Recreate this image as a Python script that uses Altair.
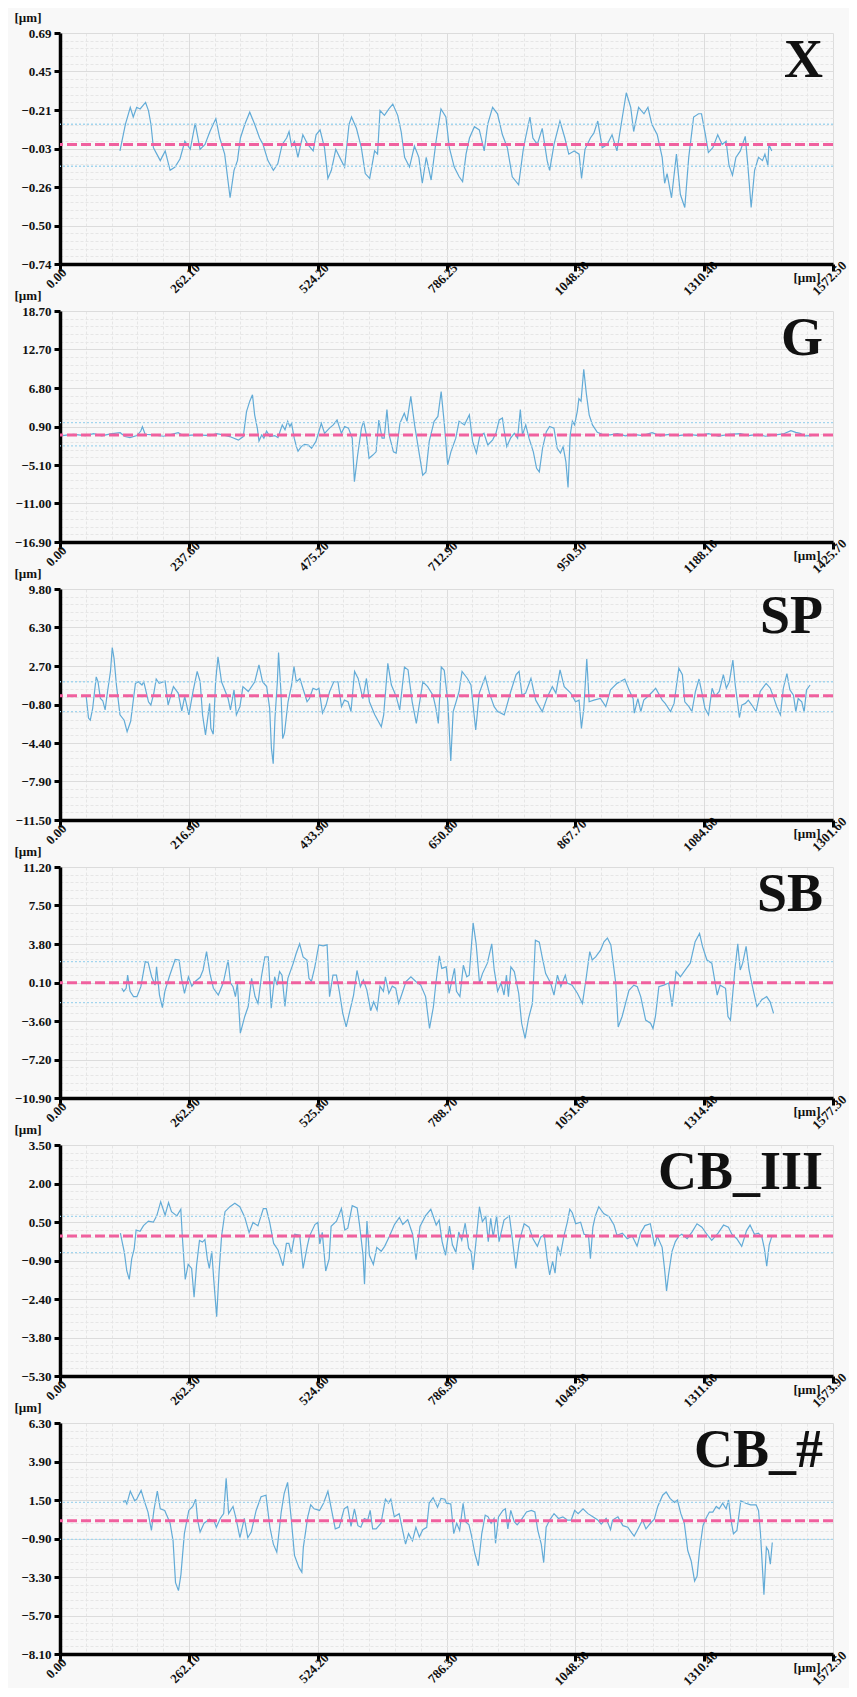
import altair as alt
import pandas as pd

FONT = "Liberation Serif"

NAMES = ["X", "G", "SP", "SB", "CB_III", "CB_#"]
X_MAX = [1572.5, 1425.7, 1301.6, 1577.3, 1573.9, 1572.5]
Y_MIN = [-0.74, -16.9, -11.5, -10.9, -5.3, -8.1]
Y_MAX = [0.69, 18.7, 9.8, 11.2, 3.5, 6.3]

X_TICK_LABELS = [
    ["0.00", "262.10", "524.20", "786.25", "1048.30", "1310.40", "1572.50"],
    ["0.00", "237.60", "475.20", "712.90", "950.50", "1188.10", "1425.70"],
    ["0.00", "216.90", "433.90", "650.80", "867.70", "1084.60", "1301.60"],
    ["0.00", "262.90", "525.80", "788.70", "1051.60", "1314.40", "1577.30"],
    ["0.00", "262.30", "524.60", "786.90", "1049.30", "1311.60", "1573.90"],
    ["0.00", "262.10", "524.20", "786.30", "1048.30", "1310.40", "1572.50"],
]
# bottom -> top
Y_TICK_LABELS = [
    ["−0.74", "−0.50", "−0.26", "−0.03", "−0.21", "0.45", "0.69"],
    ["−16.90", "−11.00", "−5.10", "0.90", "6.80", "12.70", "18.70"],
    ["−11.50", "−7.90", "−4.40", "−0.80", "2.70", "6.30", "9.80"],
    ["−10.90", "−7.20", "−3.60", "0.10", "3.80", "7.50", "11.20"],
    ["−5.30", "−3.80", "−2.40", "−0.90", "0.50", "2.00", "3.50"],
    ["−8.10", "−5.70", "−3.30", "−0.90", "1.50", "3.90", "6.30"],
]

MEAN = [0.0, -0.4, -0.05, 0.12, 0.03, 0.2]
UPPER = [0.125, 1.5, 1.25, 2.14, 0.78, 1.35]
LOWER = [-0.135, -2.1, -1.5, -1.78, -0.6, -0.95]

PROFILE_X = [(122,-0.04),(133,0.125),(143,0.23),(149,0.17),(156,0.23),(163,0.22),(174,0.26),(180,0.21),(185,0.125),(190,-0.02),(197,-0.06),(204,-0.10),(214,-0.04),(224,-0.16),(234,-0.14),(244,-0.09),(254,0.02),(265,-0.03),(275,0.13),(285,-0.03),(295,0.00),(305,0.08),(317,0.16),(325,0.04),(335,-0.06),(346,-0.33),(354,-0.16),(361,-0.10),(367,0.04),(376,0.125),(386,0.20),(396,0.125),(406,0.04),(413,0.00),(423,-0.10),(434,-0.16),(443,-0.12),(452,0.00),(461,0.04),(466,0.08),(471,-0.01),(477,0.02),(484,-0.08),(494,0.06),(504,0.00),(515,-0.04),(521,0.06),(529,0.09),(538,-0.02),(545,-0.21),(552,-0.16),(561,-0.03),(569,-0.08),(579,-0.14),(588,0.125),(593,0.17),(603,0.10),(613,-0.02),(621,-0.18),(630,-0.21),(640,-0.04),(646,-0.06),(651,0.21),(660,0.18),(669,0.22),(677,0.25),(687,0.18),(694,0.08),(701,-0.08),(711,-0.14),(721,-0.01),(730,-0.08),(737,-0.24),
    (745,-0.08),(755,-0.22),(765,0.02),(775,0.22),(785,0.17),(792,-0.02),(802,-0.14),(812,-0.20),(819,-0.23),(826,-0.06),(833,0.04),(843,0.11),(853,0.09),(863,-0.04),(870,0.125),(880,0.23),(890,0.19),(900,0.06),(910,-0.02),(920,-0.20),(933,-0.25),(942,-0.04),(947,0.04),(956,0.17),(962,0.04),(971,0.00),(981,0.10),(991,-0.10),(996,-0.16),(1005,0.00),(1017,0.145),(1027,0.04),(1035,-0.06),(1046,-0.04),(1056,-0.06),(1061,-0.21),(1068,-0.03),(1079,0.04),(1086,0.07),(1094,0.145),(1103,-0.02),(1113,0.00),(1123,0.06),(1133,-0.04),(1144,0.17),(1152,0.32),(1161,0.23),(1167,0.08),(1177,0.23),(1188,0.19),(1196,0.23),(1204,0.125),(1215,0.06),(1225,-0.08),(1230,-0.24),(1235,-0.18),(1244,-0.33),(1254,-0.06),(1262,-0.31),(1271,-0.39),(1279,-0.08),(1289,0.17),(1299,0.19),(1305,0.19),(1313,0.06),(1319,-0.05),(1328,-0.02),(1338,0.06),(1347,0.00),(1355,0.02),(1361,-0.13),(1368,-0.19),(1375,-0.08),(1384,-0.04),(1394,0.05),(1399,-0.12),(1406,-0.39),(1413,-0.16),(1421,-0.08),(1429,-0.10),(1434,-0.06),(1440,-0.13),(1442,0.00),(1448,-0.04)]

PROFILE_G = [(4,-0.5),(25,-0.3),(47,-0.5),(62,-0.2),(77,-0.55),(93,-0.25),(111,-0.05),(120,-0.65),(129,-0.8),(142,-0.5),(149,0.2),(152,0.85),(157,-0.3),(172,-0.4),(191,-0.6),(206,-0.3),(218,-0.05),(227,-0.5),(252,-0.4),(277,-0.5),(289,-0.2),(301,-0.4),(313,-0.65),(329,-1.2),(338,-0.65),(344,3.2),(350,4.8),(355,5.8),(359,2.7),(364,0.6),(367,-1.35),(372,-0.4),(376,-0.9),(381,0.2),(387,-0.65),(396,-0.5),(402,-0.8),(410,1.15),(415,0.4),(420,1.7),(424,0.9),(427,1.4),(432,-0.9),(436,-2.2),(439,-2.9),(445,-2.2),(451,-1.85),(458,-1.95),(464,-2.45),(472,-1.4),(482,1.4),(488,-0.15),(497,0.65),(504,1.15),(511,1.9),(519,-0.15),(525,0.9),(532,0.65),(539,-0.9),(543,-7.6),(549,-3.5),(556,0.65),(560,1.7),(565,-0.4),(570,-4.0),(577,-3.5),(583,-3.0),(588,1.9),(594,-0.9),(598,-0.9),(603,3.5),(607,-0.4),(615,-3.0),(620,-3.2),(627,1.4),(635,2.95),(640,1.7),(647,5.55),(654,1.15),(663,-3.5),(669,-6.6),
    (675,-6.1),(681,-1.4),(690,1.7),(697,2.45),(703,6.3),(709,1.15),(715,-5.0),(721,-3.0),(730,-0.9),(736,1.7),(746,1.15),(755,2.7),(761,-1.4),(768,-3.2),(774,-0.65),(782,-0.15),(789,-1.95),(798,-1.15),(804,-0.15),(810,1.9),(816,2.2),(819,0.4),(824,-2.2),(831,-0.9),(838,-0.15),(844,-0.9),(849,3.5),(853,-0.4),(859,1.15),(865,-0.9),(873,-3.0),(879,-5.55),(884,-6.1),(890,-2.45),(897,0.1),(903,0.9),(911,0.65),(917,-2.45),(923,-3.2),(928,-2.2),(933,-4.5),(937,-8.5),(941,-0.4),(945,1.7),(949,1.15),(954,3.2),(957,5.2),(961,4.8),(966,9.7),(971,5.8),(976,2.7),(982,1.15),(991,0.0),(1000,-0.3),(1015,-0.4),(1028,-0.2),(1043,-0.55),(1058,-0.3),(1074,-0.5),(1092,-0.05),(1107,-0.55),(1123,-0.3),(1141,-0.5),(1160,-0.3),(1178,-0.5),(1196,-0.2),(1215,-0.6),(1233,-0.3),(1255,-0.2),(1270,-0.5),(1288,-0.3),(1301,-0.6),(1319,-0.4),(1334,-0.25),(1348,0.25),(1357,0.0),(1365,-0.15),(1374,-0.55),(1386,-0.5)]

PROFILE_SP = [(44,-0.04),(48,-2.1),(51,-2.3),(55,-1.2),(61,1.7),(64,1.25),(68,-0.3),(72,-0.5),(76,-1.35),(80,0.33),(85,2.2),(88,4.4),(91,3.4),(95,0.95),(101,-1.8),(108,-2.3),(113,-3.35),(119,-2.4),(127,1.1),(132,1.25),(138,0.95),(141,1.25),(149,-0.6),(153,-0.9),(158,0.2),(162,1.5),(167,1.1),(177,1.3),(182,-0.9),(191,0.8),(199,0.2),(205,-1.45),(210,-0.1),(217,-1.8),(224,0.35),(231,2.2),(236,1.25),(240,-1.8),(245,-3.65),(252,-0.75),(254,-3.05),(258,-3.6),(262,1.25),(266,3.55),(272,1.25),(283,-0.3),(287,-1.35),(293,0.5),(297,-1.8),(303,-1.05),(308,0.8),(317,0.35),(328,1.25),(335,2.8),(341,1.25),(348,0.8),(353,-1.2),(356,-4.9),(359,-6.3),(362,-2.1),(366,1.25),(368,3.95),(372,0.35),(375,-4.0),(378,-3.5),(384,-0.6),(390,0.95),(394,2.65),(398,1.25),(404,1.55),(409,0.65),(416,-0.6),(420,-0.3),(426,0.65),(432,0.5),(436,0.65),(442,-1.65),(448,-0.9),(454,0.35),(461,1.25),(468,1.25),(474,-1.05),(479,-0.45),(485,-0.6),(490,-1.5),(496,2.2),(502,1.55),(510,-0.3),(516,1.55),(521,-0.6),(530,-1.8),(541,-2.9),(545,-1.8),(552,2.95),(558,0.95),(566,-0.1),(572,-1.35),(580,2.6),(586,2.35),(593,-0.6),(600,-2.6),(611,1.25),(619,0.8),(628,0.0),(633,-1.2),(637,-2.6),
    (642,2.6),(647,2.3),(653,-0.6),(658,-6.05),(662,-1.5),(667,-0.6),(672,0.35),(677,2.2),(686,1.55),(692,0.95),(700,-3.2),(706,0.2),(716,1.7),(723,0.2),(731,-1.05),(737,-1.5),(748,-1.8),(759,0.35),(768,1.9),(773,2.2),(778,0.0),(784,0.2),(793,1.55),(801,-0.45),(812,-1.5),(821,-0.1),(829,0.8),(835,0.2),(842,2.35),(849,0.8),(860,0.2),(868,-0.6),(874,-0.45),(878,-3.05),(882,-1.2),(887,3.35),(891,-0.6),(899,-0.45),(910,-0.3),(919,-1.05),(927,0.5),(938,1.1),(951,1.5),(958,0.5),(965,-0.3),(967,-1.65),(973,-0.3),(978,-1.5),(983,-0.45),(992,0.0),(1003,0.65),(1014,-0.45),(1019,-0.75),(1028,-1.5),(1034,-0.75),(1042,2.5),(1048,1.9),(1052,-0.6),(1059,-1.05),(1064,-1.5),(1070,0.35),(1076,1.5),(1081,0.2),(1086,-1.2),(1092,-1.8),(1098,0.65),(1103,-0.1),(1110,0.35),(1117,1.9),(1122,0.65),(1127,1.25),(1133,3.25),(1137,0.95),(1144,-2.05),(1148,-0.9),(1154,-0.75),(1159,-0.45),(1165,-0.9),(1172,-1.5),(1179,0.35),(1189,1.1),(1196,0.65),(1201,-0.1),(1207,-1.05),(1213,-1.8),(1218,0.65),(1224,2.0),(1229,0.5),(1235,0.0),(1239,-1.5),(1243,-0.3),(1249,-0.6),(1253,-1.55),(1257,0.5),(1263,0.95)]

PROFILE_SB = [(126,-0.4),(130,-0.7),(135,-0.4),(138,0.85),(143,-0.7),(150,-1.2),(157,-1.2),(165,-0.25),(174,2.15),(180,2.05),(187,0.7),(194,-0.1),(197,1.65),(203,-1.05),(209,-2.25),(214,-0.7),(223,0.7),(235,2.35),(243,2.3),(248,0.55),(254,-0.9),(262,0.7),(269,-0.2),(277,0.3),(286,0.65),(292,1.35),(299,3.1),(306,1.0),(313,-0.4),(323,-1.05),(333,0.1),(343,2.3),(348,0.1),(353,-0.25),(358,-1.2),(362,0.1),(368,-4.7),(377,-3.1),(384,-2.15),(391,0.55),(398,-1.2),(404,-1.85),(411,0.7),(418,2.6),(425,2.6),(431,-2.3),(438,0.7),(443,-0.1),(448,1.2),(453,0.85),(459,-2.15),(465,0.55),(476,2.0),(482,2.95),(489,3.85),(496,2.6),(504,2.3),(508,0.55),(513,0.25),(520,1.65),(528,3.75),(537,3.65),(545,3.75),(550,-1.2),(557,0.85),(564,0.85),(570,-0.7),(577,-2.8),(584,-4.1),(591,-2.65),(599,-1.05),(606,1.3),(613,-0.25),(619,0.4),(626,-0.55),(634,-2.55),(640,-1.7),(647,-2.5),(653,-0.2),(660,-0.7),(664,0.7),(671,-0.9),(678,-0.2),(685,-0.4),(691,-1.85),(698,-0.9),(706,0.25),(716,0.7),(726,0.25),(736,-0.1),(746,-1.2),(754,-4.25),(762,-2.15),(767,0.1),
    (774,2.7),(779,1.5),(788,1.65),(794,-0.9),(800,0.4),(805,1.5),(809,-0.7),(816,-1.2),(823,1.8),(830,0.7),(835,0.85),(843,5.85),(849,3.9),(856,0.1),(862,1.0),(872,2.0),(881,3.85),(886,1.35),(893,-0.7),(900,0.1),(906,-1.05),(911,0.85),(915,-1.2),(920,1.65),(927,1.2),(936,-0.9),(942,-3.75),(949,-5.2),(956,-3.3),(964,-1.85),(970,4.2),(978,4.0),(984,2.55),(991,1.0),(1001,0.1),(1008,-1.05),(1015,0.85),(1022,-0.25),(1031,0.85),(1035,0.1),(1045,-0.1),(1056,-0.9),(1066,-1.85),(1074,0.7),(1081,3.1),(1086,2.3),(1093,2.6),(1103,3.25),(1110,4.05),(1117,4.4),(1124,3.75),(1134,0.1),(1139,-4.1),(1147,-3.1),(1154,-1.85),(1161,-0.6),(1171,-0.1),(1178,-0.25),(1185,-1.2),(1195,-3.45),(1205,-3.75),(1210,-4.25),(1215,-3.1),(1222,-0.25),(1232,-0.1),(1242,0.1),(1249,-2.15),(1257,1.2),(1266,0.7),(1276,1.35),(1286,2.0),(1296,4.05),(1305,4.85),(1311,3.6),(1320,2.3),(1330,2.0),(1341,-1.05),(1347,-0.1),(1358,-0.4),(1363,-3.1),(1368,-3.45),(1377,1.35),(1383,3.85),(1388,1.35),(1393,2.0),(1400,3.6),(1406,1.35),(1413,-0.25),(1422,-2.15),(1432,-1.5),(1442,-1.2),(1449,-1.7),(1456,-2.8)]

PROFILE_CB3 = [(123,0.14),(126,-0.14),(131,-0.59),(136,-1.3),(141,-1.62),(146,-0.84),(151,-0.46),(155,0.26),(163,0.21),(170,0.43),(180,0.6),(190,0.56),(197,0.8),(205,1.34),(214,0.83),(221,1.31),(227,0.96),(238,0.8),(246,1.05),(249,0.03),(255,-1.62),(261,-1.05),(268,-1.2),(273,-2.3),(278,-1.1),(284,-0.14),(290,-0.2),(295,-0.1),(300,-0.84),(304,-1.2),(309,-0.55),(313,-1.62),(319,-3.04),(324,-1.3),(329,0.03),(336,0.96),(346,1.15),(356,1.28),(366,1.15),(376,0.76),(385,0.16),(393,0.55),(403,0.42),(414,1.08),(420,1.08),(427,0.55),(435,-0.25),(444,-0.5),(454,-1.1),(461,-0.25),(466,-0.25),(471,-0.64),(478,0.1),(488,0.06),(495,-1.2),(503,-0.4),(508,0.03),(519,0.47),(525,0.55),(529,-0.27),(534,0.17),(541,-1.3),(548,-0.84),(552,0.4),(563,0.6),(573,1.08),(580,0.26),(586,0.33),(595,1.19),(605,1.1),(610,0.45),(617,-0.7),(620,-1.8),(625,0.6),(630,-0.7),(638,-1.05),(645,-0.4),(654,-0.55),(661,-0.36),(671,0.03),(681,0.47),(691,0.74),(698,0.47),(708,0.66),(718,0.1),(725,-0.87),(733,0.4),(744,0.8),(755,1.05),
    (766,0.45),(772,0.64),(778,-0.18),(785,-0.7),(793,0.41),(799,-0.3),(806,-0.59),(812,0.19),(818,-0.13),(825,0.52),(832,-0.43),(837,-0.56),(841,-1.26),(847,-0.18),(854,1.15),(860,0.58),(867,0.77),(872,-0.18),(877,0.71),(882,0.0),(889,0.8),(894,-0.18),(904,0.64),(915,0.8),(921,-0.07),(928,-1.2),(935,-0.18),(945,0.5),(955,0.37),(963,-0.07),(972,-0.36),(979,0.0),(986,0.08),(992,-0.87),(997,-1.45),(1003,-0.93),(1008,-1.38),(1013,-0.36),(1019,-0.68),(1026,0.03),(1033,0.56),(1038,1.05),(1043,0.92),(1050,0.5),(1060,0.56),(1067,0.1),(1076,0.06),(1080,-0.83),(1085,0.37),(1090,0.8),(1097,1.15),(1107,0.89),(1118,0.77),(1128,0.45),(1134,0.06),(1145,0.14),(1155,-0.07),(1165,0.03),(1175,-0.35),(1182,0.14),(1191,0.43),(1202,0.5),(1211,-0.36),(1216,0.03),(1226,-0.4),(1231,-1.24),(1235,-2.06),(1239,-1.45),(1246,-0.56),(1253,-0.18),(1260,0.03),(1266,0.1),(1277,-0.07),(1287,0.19),(1297,0.5),(1307,0.37),(1317,0.1),(1327,-0.13),(1340,0.14),(1351,0.45),(1361,0.37),(1368,0.1),(1378,-0.07),(1388,-0.36),(1398,0.24),(1405,0.45),(1414,0.1),(1422,0.14),(1429,0.0),(1434,-0.43),(1439,-1.12),(1444,-0.3),(1449,0.0)]

PROFILE_CBH = [(128,1.4),(133,1.45),(136,1.25),(143,2.05),(152,1.45),(156,1.55),(165,2.1),(172,1.4),(179,0.75),(186,-0.4),(191,0.85),(198,2.05),(204,0.95),(213,0.85),(220,0.35),(224,0.05),(230,-1.05),(235,-3.65),(241,-4.15),(246,-3.15),(253,-0.6),(262,0.85),(270,1.1),(276,1.55),(280,0.25),(285,-0.5),(293,0.05),(304,0.3),(314,0.15),(318,-0.2),(326,0.35),(333,0.65),(338,2.85),(343,0.65),(352,1.1),(358,0.35),(366,-0.85),(375,0.35),(382,-0.85),(389,-0.5),(399,0.85),(409,1.7),(419,1.8),(427,-0.2),(434,-1.25),(441,-1.75),(450,0.75),(456,1.9),(463,2.6),(470,0.45),(477,-1.95),(486,-2.7),(492,-3.0),(495,-1.45),(504,0.45),(510,1.2),(517,0.95),(528,0.85),(536,1.3),(545,2.05),(551,1.1),(560,-0.3),(568,-0.2),(578,0.95),(585,1.1),(592,-0.15),(599,0.95),(606,-0.1),(612,-0.2),(619,0.35),(626,0.25),(631,0.85),(636,-0.3),(643,-0.3),(653,0.05),(662,1.55),(668,1.3),(673,1.55),(680,0.45),(690,0.65),(697,-0.4),(703,-1.25),(709,-0.6),(717,-1.05),(724,-0.2),(731,-0.8),(738,-0.35),(746,-0.2),(751,1.3),
    (759,1.65),(768,1.05),(775,1.6),(783,1.55),(786,1.3),(795,1.25),(801,-0.6),(807,0.05),(813,-0.4),(820,1.3),(825,0.15),(832,-0.05),(837,-0.7),(844,-1.85),(851,-2.6),(858,-0.6),(865,0.55),(871,0.45),(877,0.05),(883,0.35),(886,-1.2),(892,0.45),(901,0.85),(906,0.95),(911,-0.3),(917,0.85),(924,0.15),(930,-0.05),(938,0.25),(949,0.75),(959,0.85),(966,0.75),(972,-0.4),(979,-1.25),(984,-2.4),(989,-0.2),(996,0.25),(1005,0.65),(1014,0.35),(1023,0.45),(1032,0.25),(1040,0.25),(1047,0.85),(1054,0.65),(1064,0.95),(1074,0.65),(1084,0.45),(1094,0.25),(1101,0.0),(1111,0.35),(1120,-0.35),(1124,0.25),(1135,0.45),(1145,-0.1),(1155,-0.2),(1163,-0.55),(1168,-0.75),(1175,-0.35),(1185,0.25),(1192,-0.3),(1201,0.05),(1209,0.3),(1216,1.1),(1226,1.8),(1233,2.0),(1241,1.6),(1250,1.35),(1256,1.5),(1263,0.65),(1270,0.05),(1277,-1.65),(1284,-2.3),(1291,-3.55),(1296,-3.25),(1301,-1.65),(1308,-0.1),(1314,0.35),(1321,0.75),(1328,0.75),(1335,1.1),(1341,0.95),(1348,1.3),(1355,0.95),(1360,1.5),(1365,0.25),(1370,-0.6),(1377,-0.4),(1385,1.45),(1395,1.3),(1405,1.2),(1416,1.2),(1421,0.85),(1425,-0.6),(1432,-4.4),(1437,-1.45),(1441,-1.65),(1445,-2.5),(1449,-1.15)]

PROFILES = [PROFILE_X, PROFILE_G, PROFILE_SP, PROFILE_SB, PROFILE_CB3, PROFILE_CBH]

W, H = 773, 231
LINE_BLUE = "#62abd7"
REF_BLUE = "#a3d5ee"
PINK = "#f0609e"


def js_arr(labels):
    return "[" + ",".join("'" + s + "'" for s in labels) + "]"


def make_panel(i):
    xmax, ymin, ymax = X_MAX[i], Y_MIN[i], Y_MAX[i]
    xms = xmax / 30.0
    yms = (ymax - ymin) / 30.0
    xvals = [k * xms for k in range(31)]
    yvals = [ymin + k * yms for k in range(31)]
    xidx = f"round(datum.value/{xms})"
    yidx = f"round((datum.value-({ymin}))/{yms})"
    xtest = f"{xidx} % 5 == 0"
    ytest = f"{yidx} % 5 == 0"
    xscale = alt.Scale(domain=[0, xmax], nice=False, zero=False)
    yscale = alt.Scale(domain=[ymin, ymax], nice=False, zero=False)

    common = dict(
        labelFont=FONT, labelFontSize=13, labelFontWeight="bold", labelColor="#111111",
        labelOverlap=False, labelFlush=False,
        tickColor="#000000", tickWidth=3,
        domainColor="#000000", domainWidth=3.5,
        grid=True, gridWidth=1,
        titleFont=FONT, titleFontSize=13, titleFontWeight="bold", titleColor="#111111",
        titleAngle=0, titleBaseline="middle",
    )
    xaxis = alt.Axis(
        values=xvals,
        labelExpr=f"({xtest}) ? {js_arr(X_TICK_LABELS[i])}[{xidx}/5] : ''",
        labelAngle=-45, labelAlign="center", labelBaseline="middle",
        labelPadding=7, labelOffset=-4,
        tickSize=7,
        tickOpacity={"condition": {"test": xtest, "value": 1}, "value": 0},
        gridColor={"condition": {"test": xtest, "value": "#dcdcdc"}, "value": "#e6e6e6"},
        gridDash={"condition": {"test": xtest, "value": []}, "value": [3, 2]},
        title="[µm]", titleX=W - 13, titleY=13, titleAlign="right",
        **common,
    )
    yaxis = alt.Axis(
        values=yvals,
        labelExpr=f"({ytest}) ? {js_arr(Y_TICK_LABELS[i])}[{yidx}/5] : ''",
        labelPadding=3,
        tickSize=6,
        tickOpacity={"condition": {"test": ytest, "value": 1}, "value": 0},
        gridColor={"condition": {"test": ytest, "value": "#dcdcdc"}, "value": "#e6e6e6"},
        gridDash={"condition": {"test": ytest, "value": []}, "value": [3, 2]},
        title="[µm]", titleX=-46, titleY=-16, titleAlign="left",
        **common,
    )

    df = pd.DataFrame(PROFILES[i], columns=["x", "y"])
    line = alt.Chart(df).mark_line(color=LINE_BLUE, strokeWidth=1.2).encode(
        x=alt.X("x:Q", scale=xscale, axis=xaxis),
        y=alt.Y("y:Q", scale=yscale, axis=yaxis),
    )
    bounds_df = pd.DataFrame({"y": [UPPER[i], LOWER[i]]})
    blue = alt.Chart(bounds_df).mark_rule(color=REF_BLUE, strokeWidth=1.3, strokeDash=[2, 2]).encode(
        y=alt.Y("y:Q", scale=yscale, axis=yaxis)
    )
    mean_df = pd.DataFrame({"y": [MEAN[i]]})
    pink = alt.Chart(mean_df).mark_rule(color=PINK, strokeWidth=3, strokeDash=[10, 4]).encode(
        y=alt.Y("y:Q", scale=yscale, axis=yaxis)
    )
    lab = alt.Chart(pd.DataFrame({"t": [NAMES[i]]})).mark_text(
        align="right", baseline="alphabetic", font=FONT, fontSize=54,
        fontWeight="bold", color="#111111"
    ).encode(text="t:N", x=alt.value(W - 10), y=alt.value(44))
    return alt.layer(line, blue, pink, lab).properties(width=W, height=H)


panels = [make_panel(i) for i in range(6)]
chart = alt.vconcat(*panels, spacing=47.0, bounds="flush").properties(
    padding={"left": 6, "top": 3, "right": 0, "bottom": 0},
    background="#f8f8f8",
).configure_view(strokeWidth=0)

chart.save("out.html", embed_options={"renderer": "svg", "actions": False})
